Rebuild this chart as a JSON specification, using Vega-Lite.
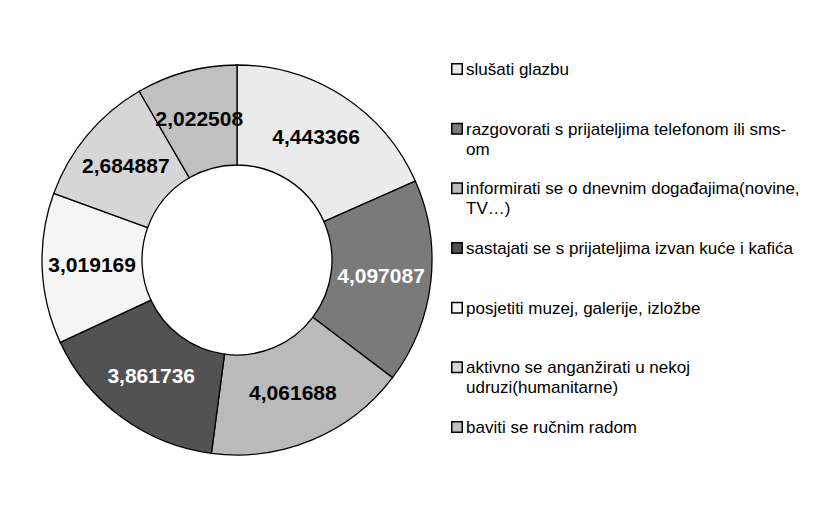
{
  "$schema": "https://vega.github.io/schema/vega-lite/v6.json",
  "background": "white",
  "padding": {"left": 37, "top": 10, "right": 5, "bottom": 5},
  "spacing": 0,
  "config": {
    "view": {"stroke": null},
    "font": "Liberation Sans",
    "locale": {"number": {"decimal": ",", "thousands": ".", "grouping": [3], "currency": ["", ""]}}
  },
  "datasets": {
    "d": [
      {"category": "slušati glazbu", "value": 4.443366, "order": 1},
      {"category": "razgovorati s prijateljima telefonom ili sms-\nom", "value": 4.097087, "order": 2},
      {"category": "informirati se o dnevnim događajima(novine,\nTV…)", "value": 4.061688, "order": 3},
      {"category": "sastajati se s prijateljima izvan kuće i kafića", "value": 3.861736, "order": 4},
      {"category": "posjetiti muzej, galerije, izložbe", "value": 3.019169, "order": 5},
      {"category": "aktivno se anganžirati u nekoj\nudruzi(humanitarne)", "value": 2.684887, "order": 6},
      {"category": "baviti se ručnim radom", "value": 2.022508, "order": 7}
    ]
  },
  "hconcat": [
    {
      "width": 400,
      "height": 500,
      "data": {"name": "d"},
      "encoding": {
        "theta": {"field": "value", "type": "quantitative", "stack": true},
        "order": {"field": "order", "type": "quantitative"}
      },
      "layer": [
        {
          "mark": {"type": "arc", "outerRadius": 195, "innerRadius": 95, "stroke": "black", "strokeWidth": 1.3},
          "encoding": {
            "color": {
              "field": "category",
              "type": "nominal",
              "scale": {
                "domain": [
                  "slušati glazbu",
                  "razgovorati s prijateljima telefonom ili sms-\nom",
                  "informirati se o dnevnim događajima(novine,\nTV…)",
                  "sastajati se s prijateljima izvan kuće i kafića",
                  "posjetiti muzej, galerije, izložbe",
                  "aktivno se anganžirati u nekoj\nudruzi(humanitarne)",
                  "baviti se ručnim radom"
                ],
                "range": ["#ebebeb", "#7a7a7a", "#bababa", "#525252", "#f5f5f5", "#d6d6d6", "#c0c0c0"]
              },
              "legend": null
            }
          }
        },
        {
          "mark": {"type": "text", "radius": 145, "fontSize": 21, "fontWeight": "bold", "font": "Liberation Sans"},
          "encoding": {
            "text": {"field": "value", "type": "quantitative", "format": ".6f"},
            "fill": {
              "field": "category",
              "type": "nominal",
              "scale": {
                "domain": [
                  "slušati glazbu",
                  "razgovorati s prijateljima telefonom ili sms-\nom",
                  "informirati se o dnevnim događajima(novine,\nTV…)",
                  "sastajati se s prijateljima izvan kuće i kafića",
                  "posjetiti muzej, galerije, izložbe",
                  "aktivno se anganžirati u nekoj\nudruzi(humanitarne)",
                  "baviti se ručnim radom"
                ],
                "range": ["black", "white", "black", "white", "black", "black", "black"]
              },
              "legend": null
            }
          }
        }
      ]
    },
    {
      "width": 40,
      "height": 476,
      "data": {"name": "d"},
      "encoding": {
        "y": {
          "field": "category",
          "type": "nominal",
          "sort": {"field": "order"},
          "scale": {"type": "point", "padding": 0.989},
          "axis": null
        }
      },
      "layer": [
        {
          "mark": {"type": "point", "shape": "square", "filled": true, "size": 110, "stroke": "black", "strokeWidth": 1.5, "opacity": 1},
          "encoding": {
            "color": {
              "field": "category",
              "type": "nominal",
              "scale": {
                "domain": [
                  "slušati glazbu",
                  "razgovorati s prijateljima telefonom ili sms-\nom",
                  "informirati se o dnevnim događajima(novine,\nTV…)",
                  "sastajati se s prijateljima izvan kuće i kafića",
                  "posjetiti muzej, galerije, izložbe",
                  "aktivno se anganžirati u nekoj\nudruzi(humanitarne)",
                  "baviti se ručnim radom"
                ],
                "range": ["#ebebeb", "#7a7a7a", "#bababa", "#525252", "#f5f5f5", "#d6d6d6", "#c0c0c0"]
              },
              "legend": null
            }
          }
        },
        {
          "mark": {"type": "text", "align": "left", "baseline": "alphabetic", "dx": 9, "dy": 6, "fontSize": 17, "lineBreak": "\n", "lineHeight": 20, "font": "Liberation Sans", "color": "black"},
          "encoding": {
            "text": {"field": "category", "type": "nominal"}
          }
        }
      ]
    }
  ]
}
